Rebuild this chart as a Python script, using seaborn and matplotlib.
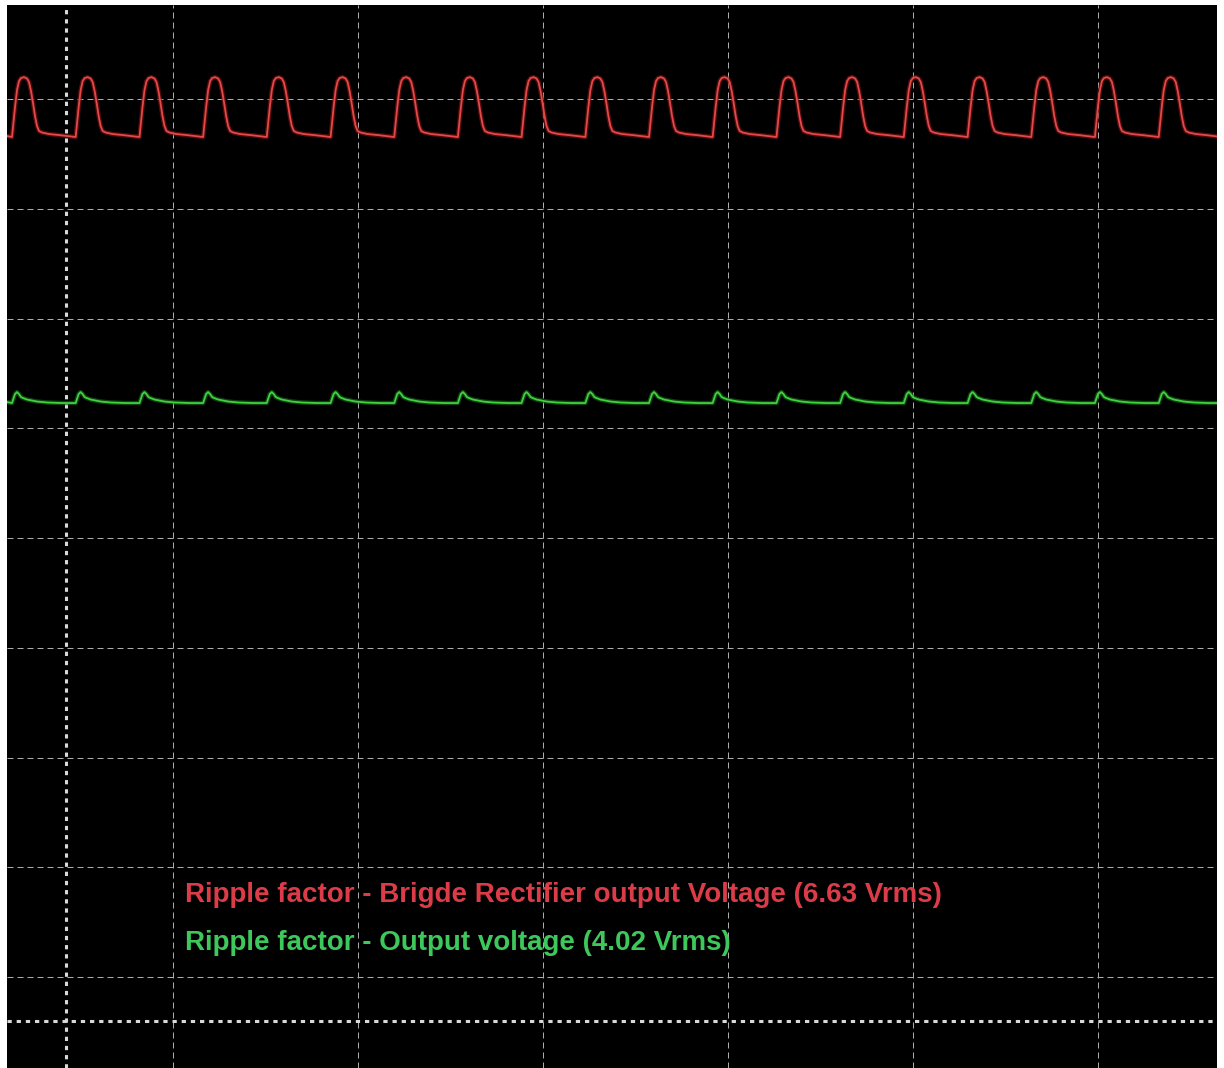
import matplotlib
matplotlib.use("Agg")
import matplotlib.pyplot as plt
import matplotlib.patheffects as pe
import pandas as pd
import seaborn as sns

# Screen coordinates in divisions: graticule lines sit on whole divisions
X_MIN, X_MAX = -0.897, 5.643
Y_MIN, Y_MAX = -0.829, 8.857
x_grid = [0, 1, 2, 3, 4, 5]
y_grid = [0, 1, 2, 3, 4, 5, 6, 7, 8]
cursor_x = -0.578
cursor_y = -0.40

# Bridge rectifier output: time of each peak (div)
red_peaks = [-0.805, -0.461, -0.116, 0.228, 0.572, 0.917, 1.261, 1.605, 1.949,
             2.294, 2.638, 2.982, 3.327, 3.671, 4.015, 4.360, 4.704, 5.048, 5.393]
# shape of one cycle around its peak: time offset (div) and level (div)
red_cycle_dt = [-0.0649, -0.0595, -0.0486, -0.0378, -0.0270, -0.0162, 0.0,
                0.0162, 0.0270, 0.0378, 0.0486, 0.0595, 0.0703, 0.0811,
                0.0973, 0.1351, 0.1892, 0.2757]
red_cycle_v = [7.654, 7.745, 7.927, 8.082, 8.164, 8.191, 8.200,
               8.187, 8.155, 8.073, 7.964, 7.845, 7.754, 7.709,
               7.695, 7.681, 7.672, 7.654]
red_start = 7.663

# Filtered output voltage: small ripple bumps
green_peaks = [-0.843, -0.499, -0.154, 0.190, 0.534, 0.879, 1.223, 1.567, 1.911,
               2.256, 2.600, 2.944, 3.289, 3.633, 3.977, 4.322, 4.666, 5.010, 5.355]
green_cycle_dt = [-0.0270, -0.0216, -0.0108, 0.0, 0.0108, 0.0216, 0.0324,
                  0.0541, 0.1081, 0.1622, 0.2432, 0.3135]
green_cycle_v = [5.230, 5.257, 5.312, 5.330, 5.312, 5.285, 5.276,
                 5.262, 5.244, 5.235, 5.230, 5.230]
green_start = 5.239

rms_values = [6.63, 4.02]
trace_names = ["Bridge rectifier output", "Output voltage"]
label_texts = [
    f"Ripple factor - Brigde Rectifier output Voltage ({rms_values[0]:.2f} Vrms)",
    f"Ripple factor - Output voltage ({rms_values[1]:.2f} Vrms)",
]
label_y = [0.750, 0.312]
label_x = 0.065

trace_colors = {trace_names[0]: "#e24a4a", trace_names[1]: "#3fd23f"}
glow_colors = {trace_names[0]: "#8a1414", trace_names[1]: "#1d6e1d"}
text_colors = ["#dc3c48", "#3ec85c"]


def build_trace(peaks, dt, levels, start, name):
    t = [X_MIN] + [p + d for p in peaks for d in dt]
    v = [start] + [lv for _ in peaks for lv in levels]
    return pd.DataFrame({"t": t, "v": v, "trace": name})


df = pd.concat([
    build_trace(red_peaks, red_cycle_dt, red_cycle_v, red_start, trace_names[0]),
    build_trace(green_peaks, green_cycle_dt, green_cycle_v, green_start, trace_names[1]),
], ignore_index=True)

sns.set_theme(style="dark", rc={"axes.facecolor": "black",
                                "figure.facecolor": "white"})
plt.rcParams["font.family"] = ["Liberation Sans", "DejaVu Sans"]

fig = plt.figure(figsize=(12.24, 10.68), dpi=100)
ax = fig.add_axes([7 / 1224, 0.0, 1210 / 1224, 1063 / 1068])
ax.set_facecolor("black")

# graticule
ax.set_xticks(x_grid)
ax.set_yticks(y_grid)
ax.tick_params(length=0, labelbottom=False, labelleft=False)
ax.grid(True, color="#acacac", linewidth=0.72, linestyle=(0, (6, 4)))

# cursors
ax.axvline(cursor_x, color="#d8d8d8", linewidth=2.2, linestyle=(0, (1.4, 1.6)))
ax.axhline(cursor_y, color="#d8d8d8", linewidth=2.2, linestyle=(0, (1.4, 1.6)))

sns.lineplot(data=df, x="t", y="v", hue="trace", palette=trace_colors,
             sort=False, estimator=None, legend=False, linewidth=1.3, ax=ax)
for line, name in zip(ax.lines[-2:], trace_names):
    line.set_path_effects([pe.Stroke(linewidth=3.2, foreground=glow_colors[name], alpha=0.6),
                           pe.Normal()])

for txt, y, c in zip(label_texts, label_y, text_colors):
    ax.text(label_x, y, txt, color=c, fontsize=20, fontweight="bold",
            va="center", ha="left")

ax.set_xlim(X_MIN, X_MAX)
ax.set_ylim(Y_MIN, Y_MAX)
ax.set_xlabel("")
ax.set_ylabel("")
for s in ax.spines.values():
    s.set_visible(False)

fig.savefig("out.png", dpi=100)
